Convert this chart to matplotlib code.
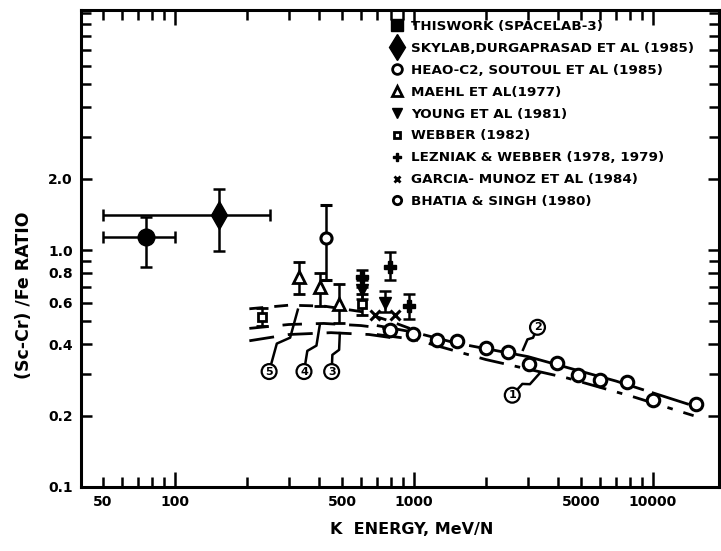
import numpy as np
import matplotlib
matplotlib.use("Agg")
import matplotlib.pyplot as plt
from matplotlib.lines import Line2D
from matplotlib.ticker import FixedLocator, FuncFormatter

# ---------------- data ----------------
thiswork_x = [76]
thiswork_y = [1.13]
thiswork_xlo = [50]
thiswork_xhi = [100]
thiswork_ylo = [0.85]
thiswork_yhi = [1.38]

skylab_x = [153]
skylab_y = [1.40]
skylab_xlo = [50]
skylab_xhi = [250]
skylab_ylo = [0.99]
skylab_yhi = [1.81]

heao_x = [794, 988, 1245, 1509, 2000, 2466, 3030, 3954, 4841, 6000, 7806, 9970, 15100]
heao_y = [0.46, 0.441, 0.417, 0.414, 0.385, 0.372, 0.330, 0.333, 0.297, 0.283, 0.278, 0.234, 0.224]

maehl_x = [330, 404, 487]
maehl_y = [0.77, 0.70, 0.59]
maehl_lo = [0.65, 0.58, 0.49]
maehl_hi = [0.89, 0.80, 0.72]

young_x = [609, 757]
young_y = [0.68, 0.60]
young_lo = [0.62, 0.55]
young_hi = [0.75, 0.67]

webber_x = [231, 609]
webber_y = [0.52, 0.59]
webber_lo = [0.48, 0.53]
webber_hi = [0.57, 0.65]

lezniak_x = [609, 798, 956]
lezniak_y = [0.77, 0.85, 0.58]
lezniak_lo = [0.70, 0.75, 0.51]
lezniak_hi = [0.82, 0.98, 0.65]

garcia_x = [685, 834]
garcia_y = [0.53, 0.53]

bhatia_x = [431]
bhatia_y = [1.12]
bhatia_lo = [0.75]
bhatia_hi = [1.55]

# model curves
c1_x = [700, 1000, 2000, 4400, 8300, 14800]
c1_y = [0.44, 0.42, 0.345, 0.288, 0.24, 0.20]
c2_x = [700, 1000, 1500, 3000, 7000, 15200]
c2_y = [0.48, 0.45, 0.405, 0.355, 0.28, 0.218]
c3_x = [205, 300, 450, 650, 900]
c3_y = [0.414, 0.44, 0.448, 0.44, 0.42]
c4_x = [205, 300, 420, 600, 850]
c4_y = [0.467, 0.485, 0.49, 0.48, 0.46]
c5_x = [205, 300, 420, 600, 800, 1000]
c5_y = [0.565, 0.585, 0.58, 0.55, 0.50, 0.46]

# curve labels: text, label position, pointer target
curve_labels = ["5", "4", "3", "2", "1"]
label_x = [248, 347, 453, 3290, 2580]
label_y = [0.307, 0.307, 0.307, 0.472, 0.244]
target_x = [327, 404, 490, 2860, 3370]
target_y = [0.56, 0.483, 0.446, 0.379, 0.303]

legend_labels = [
    "THISWORK (SPACELAB-3)",
    "SKYLAB,DURGAPRASAD ET AL (1985)",
    "HEAO-C2, SOUTOUL ET AL (1985)",
    "MAEHL ET AL(1977)",
    "YOUNG ET AL (1981)",
    "WEBBER (1982)",
    "LEZNIAK & WEBBER (1978, 1979)",
    "GARCIA- MUNOZ ET AL (1984)",
    "BHATIA & SINGH (1980)",
]

xtick_major = [100, 1000, 10000]
xtick_minor = [50, 60, 70, 80, 90, 200, 300, 400, 500, 600, 700, 800, 900,
               2000, 3000, 4000, 5000, 6000, 7000, 8000, 9000]
xtick_minor_labeled = [50, 500, 5000]
ytick_major = [0.1, 0.2, 0.4, 0.6, 0.8, 1.0, 2.0]
ytick_major_labels = ["0.1", "0.2", "0.4", "0.6", "0.8", "1.0", "2.0"]
ytick_minor = [0.3, 0.5, 0.7, 0.9, 3, 4, 5, 6, 7, 8, 9, 10]

# ---------------- figure ----------------
plt.rcParams['font.family'] = ['DejaVu Sans']
plt.rcParams['font.weight'] = 'bold'
fig = plt.figure(figsize=(7.21, 5.51), dpi=100)
W, H = 721, 551
ax = fig.add_axes([81 / W, 1 - 487 / H, (719 - 81) / W, (487 - 10) / H])
ax.set_xscale('log')
ax.set_yscale('log')
ax.set_xlim(40.5, 18900)
ax.set_ylim(0.1, 10.3)

for s in ax.spines.values():
    s.set_linewidth(2.2)

def yerr(y, lo, hi):
    y = np.array(y); return [y - np.array(lo), np.array(hi) - y]

ek = dict(ecolor='k', elinewidth=1.8, capsize=4, capthick=1.8, linestyle='none')

# model curves
ax.plot(c1_x, c1_y, color='k', lw=2, dashes=(9, 4, 2, 4))
ax.plot(c2_x, c2_y, color='k', lw=2, dashes=(14, 3))
ax.plot(c3_x, c3_y, color='k', lw=2, dashes=(9, 5))
ax.plot(c4_x, c4_y, color='k', lw=2, dashes=(7, 5))
ax.plot(c5_x, c5_y, color='k', lw=2, dashes=(5, 4))

# data
ax.errorbar(thiswork_x, thiswork_y,
            xerr=[np.array(thiswork_x) - np.array(thiswork_xlo), np.array(thiswork_xhi) - np.array(thiswork_x)],
            yerr=yerr(thiswork_y, thiswork_ylo, thiswork_yhi),
            marker='o', ms=12, mfc='k', mec='k', **ek)
ax.errorbar(skylab_x, skylab_y,
            xerr=[np.array(skylab_x) - np.array(skylab_xlo), np.array(skylab_xhi) - np.array(skylab_x)],
            yerr=yerr(skylab_y, skylab_ylo, skylab_yhi),
            marker='d', ms=14, mfc='k', mec='k', **ek)
ax.errorbar(maehl_x, maehl_y, yerr=yerr(maehl_y, maehl_lo, maehl_hi),
            marker='^', ms=8, mfc='white', mec='k', mew=2, **ek)
ax.errorbar(bhatia_x, bhatia_y, yerr=yerr(bhatia_y, bhatia_lo, bhatia_hi),
            marker='o', ms=8, mfc='white', mec='k', mew=2.2, **ek)
ax.errorbar(lezniak_x, lezniak_y, yerr=yerr(lezniak_y, lezniak_lo, lezniak_hi),
            marker='P', ms=8, mfc='k', mec='k', **ek)
ax.errorbar(young_x, young_y, yerr=yerr(young_y, young_lo, young_hi),
            marker='v', ms=8, mfc='k', mec='k', **ek)
ax.errorbar(webber_x, webber_y, yerr=yerr(webber_y, webber_lo, webber_hi),
            marker='s', ms=6, mfc='white', mec='k', mew=2, **ek)
ax.plot(garcia_x, garcia_y, linestyle='none', marker='x', ms=7, mec='k', mew=2.2)
ax.plot(heao_x, heao_y, linestyle='none', marker='o', ms=9, mfc='white', mec='k', mew=2.2)

# curve labels with small zigzag ("lightning") pointers
for t, lx, ly, tx, ty in zip(curve_labels, label_x, label_y, target_x, target_y):
    s = np.array([np.log10(lx), np.log10(ly)])
    e = np.array([np.log10(tx), np.log10(ty)])
    d = e - s
    perp = np.array([-d[1], d[0]]) * 0.07
    pts = np.array([s, s + 0.42 * d + perp, s + 0.58 * d - perp, e])
    ax.plot(10 ** pts[:, 0], 10 ** pts[:, 1], color='k', lw=1.8)
    ax.text(lx, ly, t, ha='center', va='center', fontsize=8, fontweight='bold',
            bbox=dict(boxstyle='circle,pad=0.22', fc='white', ec='k', lw=1.6), zorder=5)

# ticks
ax.xaxis.set_major_locator(FixedLocator(xtick_major))
ax.xaxis.set_minor_locator(FixedLocator(xtick_minor))
ax.xaxis.set_major_formatter(FuncFormatter(lambda v, p: "%d" % round(v)))
ax.xaxis.set_minor_formatter(FuncFormatter(
    lambda v, p: ("%d" % round(v)) if int(round(v)) in xtick_minor_labeled else ""))
ax.yaxis.set_major_locator(FixedLocator(ytick_major))
ax.yaxis.set_major_formatter(FuncFormatter(
    lambda v, p: ytick_major_labels[int(np.argmin(np.abs(np.array(ytick_major) - v)))]))
ax.yaxis.set_minor_locator(FixedLocator(ytick_minor))
ax.yaxis.set_minor_formatter(FuncFormatter(lambda v, p: ""))

ax.tick_params(which='both', direction='in', top=True, right=True, width=1.8,
               labelsize=10, pad=6)
ax.tick_params(axis='x', which='major', length=11)
ax.tick_params(axis='x', which='minor', length=7, labelsize=10)
ax.tick_params(axis='y', which='major', length=8)
ax.tick_params(axis='y', which='minor', length=7)
for lab in ax.get_xticklabels(which='both') + ax.get_yticklabels(which='both'):
    lab.set_fontweight('bold')

ax.set_xlabel("K  ENERGY, MeV/N", fontsize=11.5, fontweight='bold')
ax.set_ylabel("(Sc-Cr) /Fe RATIO", fontsize=12.5, fontweight='bold')
ax.xaxis.set_label_coords((412 - 81) / 638, -(530 - 487) / 477)
ax.yaxis.set_label_coords((24 - 81) / 638, (487 - 295) / 477)
ax.xaxis.label.set_va('center')
ax.yaxis.label.set_va('center')

# legend
handles = [
    Line2D([], [], ls='none', marker='s', ms=8, mfc='k', mec='k'),
    Line2D([], [], ls='none', marker='d', ms=13, mfc='k', mec='k'),
    Line2D([], [], ls='none', marker='o', ms=7, mfc='white', mec='k', mew=2),
    Line2D([], [], ls='none', marker='^', ms=7, mfc='white', mec='k', mew=2),
    Line2D([], [], ls='none', marker='v', ms=7, mfc='k', mec='k'),
    Line2D([], [], ls='none', marker='s', ms=5, mfc='white', mec='k', mew=2),
    Line2D([], [], ls='none', marker='P', ms=6, mfc='k', mec='k'),
    Line2D([], [], ls='none', marker='x', ms=5, mec='k', mew=2),
    Line2D([], [], ls='none', marker='o', ms=6, mfc='white', mec='k', mew=2),
]
leg = fig.legend(handles, legend_labels, loc='upper left',
                 bbox_to_anchor=(390 / W, 1 - 20 / H), frameon=False,
                 prop=dict(weight='bold', size=9.7), handlelength=1.0,
                 handletextpad=0.55, labelspacing=0.66, borderpad=0,
                 borderaxespad=0)

fig.savefig("out.png", dpi=100)
